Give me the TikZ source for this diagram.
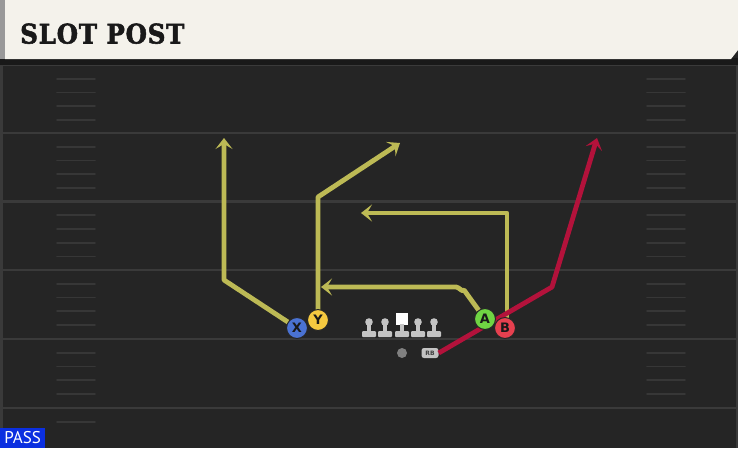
\documentclass[tikz,border=0pt]{standalone}
\usepackage{fontspec}
\usetikzlibrary{arrows.meta}
\newfontfamily\titlefont[FakeBold=2,LetterSpace=3]{DejaVu Serif Bold}
\newfontfamily\labfont{DejaVu Sans}
\newfontfamily\passfont{PT Sans}
\definecolor{field}{HTML}{252525}
\definecolor{cream}{HTML}{F4F2EB}
\definecolor{yardc}{HTML}{3A3A3A}
\definecolor{hashc}{HTML}{373737}
\definecolor{routey}{HTML}{BDBA55}
\definecolor{router}{HTML}{B3123B}
\definecolor{pblue}{HTML}{4A72D2}
\definecolor{pyellow}{HTML}{F5C940}
\definecolor{pgreen}{HTML}{6FD443}
\definecolor{pred}{HTML}{E6404F}
\definecolor{lineg}{HTML}{C4C4C4}
\definecolor{passblue}{HTML}{0B2FE0}
\tikzset{
  yard/.style={draw=yardc, line width=2.2pt},
  hash/.style={draw=hashc, line width=1.8pt, line cap=round},
  routeline/.style={draw=routey, line width=4.8pt, line join=round,
    -{Stealth[length=11pt,width=17pt,inset=5pt]}},
  redroute/.style={draw=router, line width=4.8pt, line join=round,
    -{Stealth[length=11pt,width=17pt,inset=5pt]}},
  player/.style={circle, draw=black!85, line width=1pt, minimum size=21pt,
    inner sep=0pt, font=\labfont\bfseries\fontsize{13}{13}\selectfont, text=black!90},
  lman/.style={fill=lineg},
}
\begin{document}
\begin{tikzpicture}[x=1pt,y=-1pt]
\useasboundingbox (0,0) rectangle (738,448);
\fill[field] (0,0) rectangle (738,448);
% edges
\fill[yardc] (0,60) rectangle (2.5,448);
\fill[yardc] (735.5,60) rectangle (738,448);
% title bar
\fill[black!90] (0,58) rectangle (738,65);
\draw[yardc, line width=1pt] (0,65.5) -- (738,65.5);
\fill[cream] (5,0) -- (738,0) -- (738,50) -- (731,59) -- (5,59) -- cycle;
\fill[black!40] (0,0) rectangle (5,59);
\node[anchor=base west, inner sep=0pt, font=\titlefont\fontsize{27}{27}\selectfont, text=black!90]
  (title) at (20,43.5) {\scalebox{0.91}[1]{SLOT POST}};
% yard lines
\foreach \y in {133,201.5,270,339,408} {
  \draw[yard] (2,\y) -- (736,\y);
}
% hash marks
\foreach \b in {65,133,201.5,270,339} {
  \foreach \k in {1,2,3,4} {
    \draw[hash] (57,\b+13.75*\k) -- (95,\b+13.75*\k);
    \draw[hash] (647,\b+13.75*\k) -- (685,\b+13.75*\k);
  }
}
\draw[hash] (57,408+13.75) -- (95,408+13.75);
% players
\coordinate (Xp) at (297,328);
\coordinate (Yp) at (318,320);
\coordinate (Ap) at (485,319);
\coordinate (Bp) at (505,328);
% turn points
\coordinate (x1) at (224,280);
\coordinate (x2) at (224,138);
\coordinate (y1) at (318,197);
\coordinate (y2) at (400,143);
\coordinate (a1) at (464,290);
\coordinate (a2) at (456,287);
\coordinate (a3) at (321,287);
\coordinate (b0) at (507,319);
\coordinate (b1) at (507,213);
\coordinate (b2) at (361,213);
\coordinate (r1) at (552,287);
\coordinate (r2) at (597,138);
% backfield
\node[fill=black!50, circle, minimum size=10pt, inner sep=0pt] (qb) at (402,353) {};
\node[fill=lineg, rounded corners=2.5pt, minimum width=17pt, minimum height=10pt,
  inner sep=0pt, font=\labfont\bfseries\fontsize{6}{6}\selectfont, text=black!75] (rb) at (430,353) {RB};
% routes
\draw[routeline] (Xp) -- (x1) -- (x2);
\draw[routeline] (Yp) -- (y1) -- (y2);
\draw[routeline] (Ap) -- (a1) to[out=235,in=0] (a2) -- (a3);
\draw[routeline] (b0) -- (b1) -- (b2);
\draw[redroute] (rb.east) -- (r1) -- (r2);
% receivers
\node[player, fill=pblue] (X) at (Xp) {X};
\node[player, fill=pyellow] (Y) at (Yp) {Y};
\node[player, fill=pgreen] (A) at (Ap) {A};
\node[player, fill=pred] (B) at (Bp) {B};
% offensive line
\foreach \x in {369,385,418,434} {
  \fill[lman] (\x,322) circle (3.8pt);
  \fill[lman] (\x-2,322) rectangle (\x+2,332);
  \fill[lman, rounded corners=1pt] (\x-7,331) rectangle (\x+7,337);
}
\fill[white] (396,313) rectangle (408,325);
\fill[lman] (400,324) rectangle (404,332);
\fill[lman, rounded corners=1pt] (395,331) rectangle (409,337);
% pass label
\node[fill=passblue, anchor=south west, minimum width=45pt, minimum height=20pt, inner sep=0pt,
  font=\passfont\fontsize{17}{17}\selectfont, text=white] (pass) at (0,448) {PASS};
\end{tikzpicture}
\end{document}
